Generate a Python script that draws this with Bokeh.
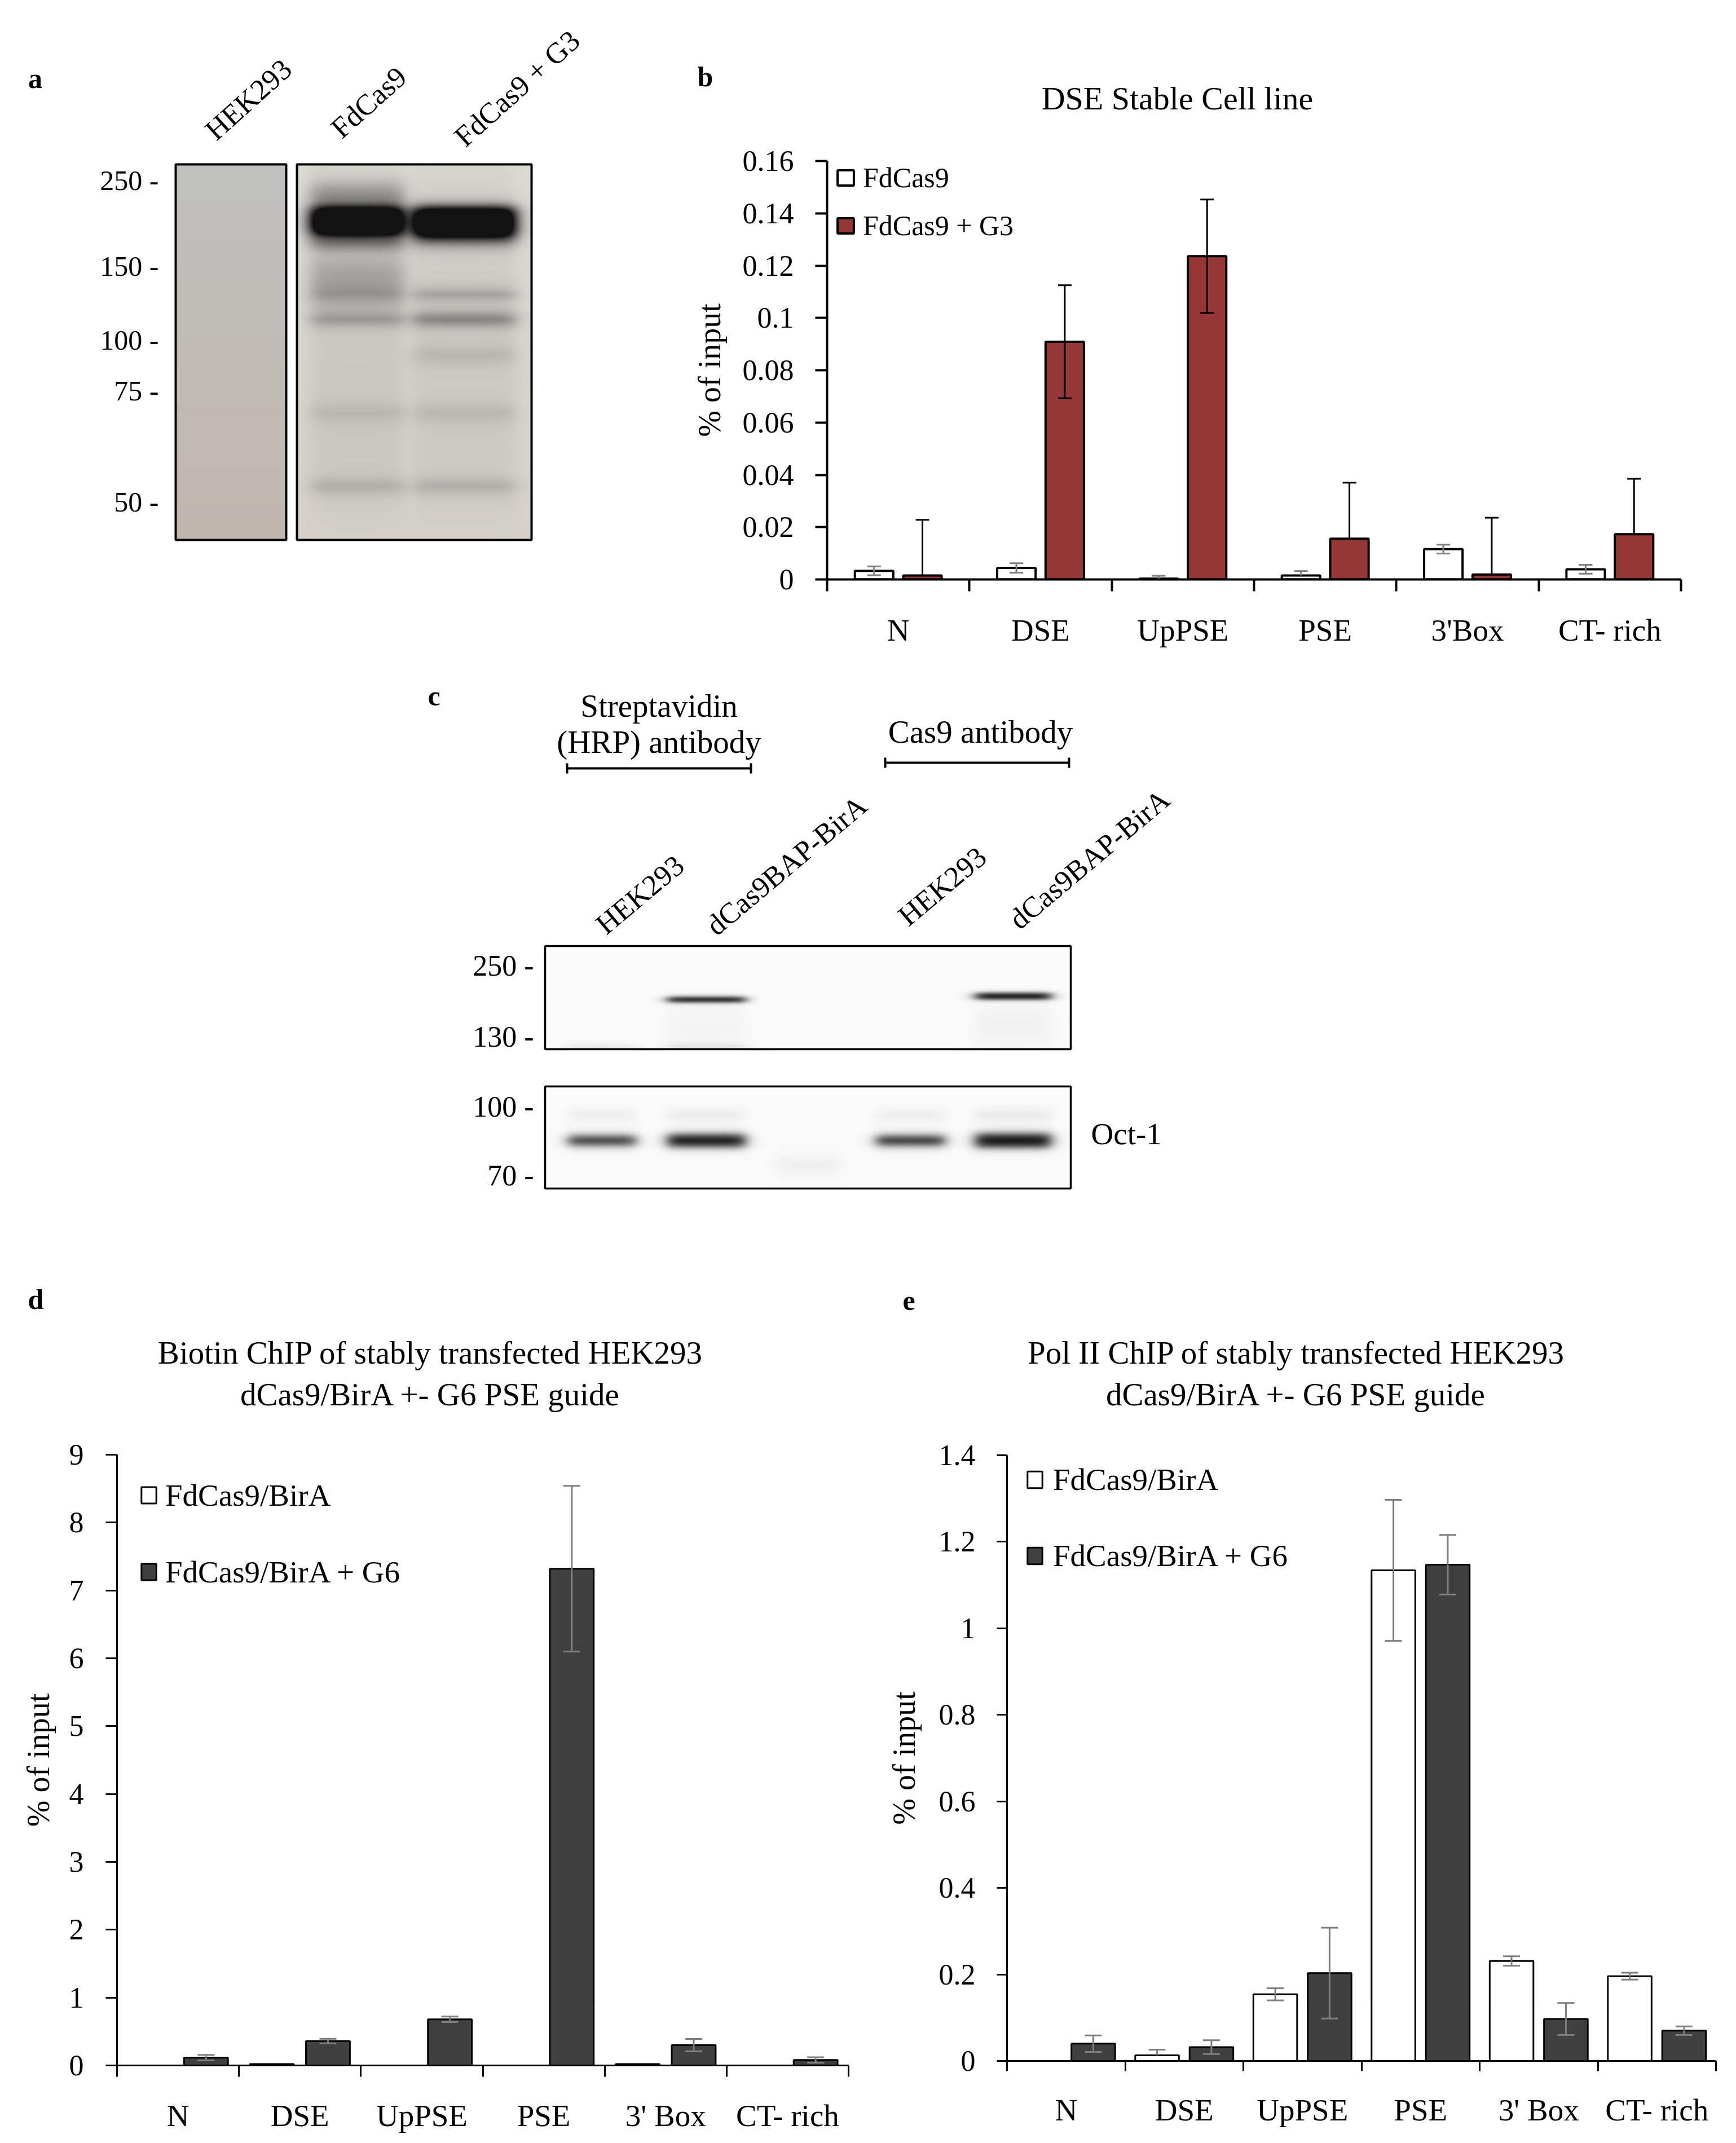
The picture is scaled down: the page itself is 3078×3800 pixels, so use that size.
import math
import numpy as np
from bokeh.plotting import figure
from bokeh.layouts import row, column
from bokeh.models import (Range1d, FixedTicker, ColumnDataSource, Whisker, TeeHead,
                          Legend, LegendItem)
from bokeh.core.properties import value
from bokeh.embed import file_html
from bokeh.resources import INLINE

SERIF = "Liberation Serif"

# ------------------------------------------------------------------ data
# panel b : DSE stable cell line
b_categories = ["N", "DSE", "UpPSE", "PSE", "3'Box", "CT- rich"]
b_fdcas9 = [0.0033, 0.0044, 0.0003, 0.0015, 0.0116, 0.0039]
b_fdcas9_err = [0.0017, 0.0018, 0.0011, 0.0017, 0.0017, 0.0017]
b_g3 = [0.0015, 0.0909, 0.1236, 0.0156, 0.0019, 0.0173]
b_g3_err = [0.0213, 0.0216, 0.0217, 0.0214, 0.0217, 0.0212]
b_yticks = [0, 0.02, 0.04, 0.06, 0.08, 0.1, 0.12, 0.14, 0.16]
b_ytick_labels = ["0", "0.02", "0.04", "0.06", "0.08", "0.1", "0.12", "0.14", "0.16"]

# panels d / e
de_categories = ["N", "DSE", "UpPSE", "PSE", "3' Box", "CT- rich"]
d_bira = [0.0, 0.02, 0.0, 0.0, 0.02, 0.0]
d_bira_err = [0.0, 0.0, 0.0, 0.0, 0.0, 0.0]
d_g6 = [0.115, 0.36, 0.68, 7.32, 0.30, 0.08]
d_g6_err = [0.04, 0.033, 0.04, 1.22, 0.09, 0.04]
d_yticks = [0, 1, 2, 3, 4, 5, 6, 7, 8, 9]
d_ytick_labels = ["0", "1", "2", "3", "4", "5", "6", "7", "8", "9"]

e_bira = [0.0, 0.013, 0.154, 1.134, 0.231, 0.196]
e_bira_err = [0.0, 0.013, 0.014, 0.163, 0.011, 0.008]
e_g6 = [0.040, 0.032, 0.203, 1.147, 0.097, 0.070]
e_g6_err = [0.019, 0.016, 0.105, 0.069, 0.037, 0.010]
e_yticks = [0, 0.2, 0.4, 0.6, 0.8, 1, 1.2, 1.4]
e_ytick_labels = ["0", "0.2", "0.4", "0.6", "0.8", "1", "1.2", "1.4"]

# blot annotations
a_lanes = ["HEK293", "FdCas9", "FdCas9  + G3"]
a_markers = ["250 -", "150 -", "100 -", "75 -", "50 -"]
c_lanes = ["HEK293", "dCas9BAP-BirA", "HEK293", "dCas9BAP-BirA"]
c_markers = ["250 -", "130 -", "100 -", "70 -"]

# ------------------------------------------------------------------ layout (reference px)
ROW1_H, ROW2_H, ROW3_H = 1162, 1060, 1562
W_A, W_B = 1172, 1890
W_C = 3062
W_D, W_E = 1532, 1530
HB_H = 242          # header of panel b
HDE_H = 310         # headers of panels d, e
ORIG_A = (8, 8)
ORIG_HB = (8 + W_A, 8)
ORIG_B = (8 + W_A, 8 + HB_H)
ORIG_C = (8, 8 + ROW1_H)
ORIG_HD = (8, 8 + ROW1_H + ROW2_H)
ORIG_HE = (8 + W_D, 8 + ROW1_H + ROW2_H)
ORIG_D = (8, 8 + ROW1_H + ROW2_H + HDE_H)
ORIG_E = (8 + W_D, 8 + ROW1_H + ROW2_H + HDE_H)


def no_align(p):
    try:
        p.frame_align = False
    except Exception:
        pass
    return p


def plateau(d, half, soft):
    return 1.0 / (1.0 + np.exp((np.abs(d) - half) / max(soft, 0.5)))


def blot_rgba(x0, y0, x1, y1, lanes, bands, bg_top, bg_bot, ink, lane_soft=7.0):
    w = int(x1 - x0)
    h = int(y1 - y0)
    xx = np.arange(w)[None, :] + x0 + 0.5
    yy = np.arange(h)[:, None] + y0 + 0.5
    dens = np.zeros((h, w))
    for lane, yc, half, soft, dark in bands:
        cx, hw = lanes[lane]
        dens += dark * plateau(xx - cx, hw, lane_soft) * plateau(yy - yc, half, soft)
    dens = np.clip(dens, 0, 1)[..., None]
    t = ((yy - y0) / h)[..., None]
    bg = np.array(bg_top, float)[None, None, :] * (1 - t) + np.array(bg_bot, float)[None, None, :] * t
    rgb = bg * (1 - dens) + np.array(ink, float)[None, None, :] * dens
    rgba = np.empty((h, w, 4), dtype=np.uint8)
    rgba[..., :3] = np.clip(rgb, 0, 255).astype(np.uint8)
    rgba[..., 3] = 255
    img = rgba.view(np.uint32).reshape(h, w)
    return img[::-1].copy(), w, h


def pixel_figure(W, H):
    p = figure(width=W, height=H, x_range=Range1d(0, W), y_range=Range1d(0, H),
               output_backend="svg", toolbar_location=None,
               x_axis_location=None, y_axis_location=None, min_border=0)
    p.grid.visible = False
    p.outline_line_color = None
    p.background_fill_color = "white"
    p.border_fill_color = "white"
    return no_align(p)


def place_image(p, orig, H, img, w, h, rx0, ry0):
    p.image_rgba(image=[img], x=rx0 - orig[0], y=H - (ry0 - orig[1]) - h, dw=w, dh=h)


def box(p, orig, H, rx0, ry0, rx1, ry1, lw):
    p.quad(left=rx0 - orig[0], right=rx1 - orig[0], top=H - (ry0 - orig[1]),
           bottom=H - (ry1 - orig[1]), fill_color=None, line_color="black", line_width=lw)


def texts(p, orig, H, rxs, rys, labels, size, align="center", angle=0.0, bold=False):
    src = ColumnDataSource(dict(x=[x - orig[0] for x in rxs], y=[H - (y - orig[1]) for y in rys], t=labels))
    p.text(x="x", y="y", text="t", source=src, angle=angle, text_font=value(SERIF),
           text_font_size=value(f"{size}px"), text_align=align, text_baseline="middle",
           text_font_style="bold" if bold else "normal", text_color="black")


# ------------------------------------------------------------------ panel a
fa = pixel_figure(W_A, ROW1_H)
L_BOX = (319, 299, 515, 965)
R_BOX = (534, 299, 950, 965)
img, w, h = blot_rgba(*L_BOX, lanes=[(0, 0)], bands=[], bg_top=(192, 193, 191), bg_bot=(193, 182, 174), ink=(20, 20, 20))
place_image(fa, ORIG_A, ROW1_H, img, w, h, L_BOX[0], L_BOX[1])
a_lane_geo = [(641, 82), (831, 90)]
a_bands = [
    (0, 600, 300, 40, 0.07), (1, 600, 300, 40, 0.06),
    (0, 400, 24, 6, 1.6), (1, 402, 26, 6, 1.6),
    (0, 355, 20, 8, 0.33), (0, 438, 12, 6, 0.38), (1, 437, 10, 6, 0.25),
    (0, 510, 40, 12, 0.22), (1, 530, 8, 6, 0.26), (0, 528, 8, 6, 0.12),
    (0, 574, 9, 6, 0.28), (1, 574, 10, 6, 0.42),
    (1, 637, 12, 8, 0.12), (0, 740, 10, 8, 0.11), (1, 740, 10, 8, 0.12),
    (0, 870, 10, 7, 0.18), (1, 870, 10, 7, 0.18),
]
img, w, h = blot_rgba(*R_BOX, lanes=a_lane_geo, bands=a_bands, bg_top=(220, 219, 214), bg_bot=(214, 209, 203), ink=(18, 18, 18), lane_soft=9.0)
place_image(fa, ORIG_A, ROW1_H, img, w, h, R_BOX[0], R_BOX[1])
box(fa, ORIG_A, ROW1_H, *L_BOX, 4)
box(fa, ORIG_A, ROW1_H, *R_BOX, 4)
texts(fa, ORIG_A, ROW1_H, [289] * 5, [327, 479, 610, 700, 897], a_markers, 50, align="right")
texts(fa, ORIG_A, ROW1_H, [448, 661, 929], [184, 189, 160], a_lanes, 52, angle=math.radians(42))
texts(fa, ORIG_A, ROW1_H, [70], [146], ["a"], 50, bold=True)


# ------------------------------------------------------------------ panel c
fc = pixel_figure(W_C, ROW2_H)
C_UP = (974, 1685, 1906, 1868)
C_LO = (974, 1934, 1906, 2115)
c_lane_geo = [(1075, 60), (1260, 69), (1441, 54), (1622, 61), (1804, 67)]
c_up_bands = [
    (1, 1780, 5, 2, 0.92), (4, 1774, 6, 2, 0.95),
    (1, 1825, 30, 10, 0.03), (4, 1825, 30, 10, 0.04),
    (0, 1864, 3, 3, 0.10), (1, 1863, 3, 3, 0.12),
]
c_lo_bands = [
    (0, 2030, 9, 4, 0.80), (1, 2030, 11, 4, 0.98), (3, 2030, 9, 4, 0.84), (4, 2030, 12, 4, 1.0),
    (0, 1985, 8, 6, 0.07), (1, 1985, 8, 6, 0.08), (3, 1985, 8, 6, 0.07), (4, 1985, 8, 6, 0.09),
    (2, 2072, 12, 8, 0.06),
]
img, w, h = blot_rgba(*C_UP, lanes=c_lane_geo, bands=c_up_bands, bg_top=(252, 252, 252), bg_bot=(250, 250, 250), ink=(15, 15, 15))
place_image(fc, ORIG_C, ROW2_H, img, w, h, C_UP[0], C_UP[1])
img, w, h = blot_rgba(*C_LO, lanes=c_lane_geo, bands=c_lo_bands, bg_top=(252, 252, 252), bg_bot=(250, 250, 250), ink=(15, 15, 15))
place_image(fc, ORIG_C, ROW2_H, img, w, h, C_LO[0], C_LO[1])
box(fc, ORIG_C, ROW2_H, *C_UP, 3.5)
box(fc, ORIG_C, ROW2_H, *C_LO, 3.5)
texts(fc, ORIG_C, ROW2_H, [954] * 4, [1720, 1846, 1970, 2092], c_markers, 52, align="right")
texts(fc, ORIG_C, ROW2_H, [1142, 1402, 1678, 1939], [1594, 1542, 1579, 1531], c_lanes, 52, angle=math.radians(40))
texts(fc, ORIG_C, ROW2_H, [1176, 1176, 1746], [1259, 1323, 1305], ["Streptavidin", "(HRP) antibody", "Cas9 antibody"], 57)
texts(fc, ORIG_C, ROW2_H, [1942], [2018], ["Oct-1"], 55, align="left")
texts(fc, ORIG_C, ROW2_H, [777], [1241], ["c"], 50, bold=True)
for (x0, x1, yb) in [(1013, 1339, 1370), (1577, 1903, 1360)]:
    ox, oy = ORIG_C
    yy = ROW2_H - (yb - oy)
    fc.segment(x0=[x0 - ox, x0 - ox, x1 - ox], y0=[yy, yy - 9, yy - 9],
               x1=[x1 - ox, x0 - ox, x1 - ox], y1=[yy, yy + 9, yy + 9],
               line_color="black", line_width=4)


# ------------------------------------------------------------------ headers of b, d, e
hb = pixel_figure(W_B, HB_H)
texts(hb, ORIG_HB, HB_H, [1258], [143], ["b"], 50, bold=True)
texts(hb, ORIG_HB, HB_H, [2095], [182], ["DSE Stable Cell line"], 58)

hd = pixel_figure(W_D, HDE_H)
texts(hd, ORIG_HD, HDE_H, [71], [2311], ["d"], 50, bold=True)
texts(hd, ORIG_HD, HDE_H, [771, 771], [2406, 2480],
      ["Biotin ChIP of stably transfected HEK293", "dCas9/BirA +- G6 PSE guide"], 57)

he = pixel_figure(W_E, HDE_H)
texts(he, ORIG_HE, HDE_H, [1619], [2314], ["e"], 50, bold=True)
texts(he, ORIG_HE, HDE_H, [2306, 2306], [2406, 2480],
      ["Pol II ChIP of stably transfected HEK293", "dCas9/BirA +- G6 PSE guide"], 57)


# ------------------------------------------------------------------ bar charts
LEG_ROW = 90


def bar_chart(W, H, orig, frame_ref, ymax, yticks, ylabels, cats, series, bar_w,
              lw, tick_len, ylab_standoff, xlab_standoff, ax_label_standoff,
              tick_font, xlab_font, ylab_font, head):
    ox, oy = orig
    fl = frame_ref[0] - ox
    fr = frame_ref[2] - ox
    ft = frame_ref[1] - oy
    fb = frame_ref[3] - oy
    n = len(cats)
    p = figure(width=W, height=H, x_range=Range1d(0, n), y_range=Range1d(0, ymax),
               output_backend="svg", toolbar_location=None,
               min_border_left=fl, min_border_right=W - fr,
               min_border_top=ft, min_border_bottom=H - fb)
    no_align(p)
    p.grid.visible = False
    p.outline_line_color = None
    p.background_fill_color = "white"
    p.border_fill_color = "white"
    rends = []
    for s in series:
        xs = [i + 0.5 + s["offset"] for i in range(n)]
        src = ColumnDataSource(dict(x=xs, top=s["values"]))
        r = p.vbar(x="x", top="top", width=bar_w, bottom=0, source=src,
                   fill_color=s["fill"], line_color="black", line_width=lw)
        rends.append(r)
        up = dict(x=[], lo=[], hi=[])
        dn = dict(x=[], lo=[], hi=[])
        for x, v, e in zip(xs, s["values"], s["errs"]):
            if e <= 0:
                continue
            up["x"].append(x); up["lo"].append(v); up["hi"].append(v + e)
            if v - e > 0:
                dn["x"].append(x); dn["lo"].append(v - e); dn["hi"].append(v)
        ec = s["err_color"]
        p.add_layout(Whisker(source=ColumnDataSource(up), base="x", lower="lo", upper="hi",
                             dimension="height", line_color=ec, line_width=3, level="annotation",
                             upper_head=TeeHead(size=head, line_color=ec, line_width=3), lower_head=None))
        p.add_layout(Whisker(source=ColumnDataSource(dn), base="x", lower="lo", upper="hi",
                             dimension="height", line_color=ec, line_width=3, level="annotation",
                             lower_head=TeeHead(size=head, line_color=ec, line_width=3), upper_head=None))
    xa = p.xaxis[0]
    xa.ticker = FixedTicker(ticks=[i + 0.5 for i in range(n)], minor_ticks=list(range(n + 1)))
    xa.major_label_overrides = {i + 0.5: c for i, c in enumerate(cats)}
    xa.major_tick_line_color = None
    xa.major_tick_out = 0
    xa.major_tick_in = 0
    xa.minor_tick_out = tick_len
    xa.minor_tick_in = 0
    xa.minor_tick_line_color = "black"
    xa.minor_tick_line_width = lw
    xa.axis_line_width = lw
    xa.axis_line_color = "black"
    xa.major_label_text_font = SERIF
    xa.major_label_text_font_size = f"{xlab_font}px"
    xa.major_label_text_color = "black"
    xa.major_label_standoff = xlab_standoff
    ya = p.yaxis[0]
    ya.ticker = FixedTicker(ticks=yticks)
    ya.major_label_overrides = dict(zip(yticks, ylabels))
    ya.major_tick_out = tick_len
    ya.major_tick_in = 0
    ya.major_tick_line_width = lw
    ya.major_tick_line_color = "black"
    ya.minor_tick_line_color = None
    ya.axis_line_width = lw
    ya.axis_line_color = "black"
    ya.major_label_text_font = SERIF
    ya.major_label_text_font_size = f"{tick_font}px"
    ya.major_label_text_color = "black"
    ya.major_label_standoff = ylab_standoff
    ya.axis_label = "% of input"
    ya.axis_label_text_font = SERIF
    ya.axis_label_text_font_size = f"{ylab_font}px"
    ya.axis_label_text_font_style = "normal"
    ya.axis_label_text_color = "black"
    ya.axis_label_standoff = ax_label_standoff

    def legend(r, text, rx_left, ry_center, gw, gh, standoff, size):
        sx = rx_left - ox - fl
        sy = fb - (ry_center - oy) - LEG_ROW / 2
        p.add_layout(Legend(items=[LegendItem(label=text, renderers=[r])], location=(sx, sy),
                            glyph_width=gw, glyph_height=gh, label_height=LEG_ROW, label_width=10,
                            label_standoff=standoff, label_text_font=SERIF,
                            label_text_font_size=f"{size}px", label_text_color="black",
                            padding=0, margin=0, spacing=0, border_line_color=None,
                            background_fill_alpha=0))

    return p, rends, legend


# panel b
fb_, rb, leg_b = bar_chart(
    W_B, ROW1_H - HB_H, ORIG_B, (1474, 293, 2988, 1035), 0.16, b_yticks, b_ytick_labels, b_categories,
    [dict(values=b_fdcas9, errs=b_fdcas9_err, offset=-0.17, fill="white", err_color="#808080"),
     dict(values=b_g3, errs=b_g3_err, offset=0.17, fill="#953735", err_color="black")],
    bar_w=0.27, lw=4, tick_len=21, ylab_standoff=38, xlab_standoff=38, ax_label_standoff=25,
    tick_font=52, xlab_font=55, ylab_font=56, head=24)
leg_b(rb[0], "FdCas9", 1489, 323, 36, 34, 13, 50)
leg_b(rb[1], "FdCas9 + G3", 1489, 408, 36, 34, 13, 50)

# panel d
fd_, rd, leg_d = bar_chart(
    W_D, ROW3_H - HDE_H, ORIG_D, (215, 2587, 1512, 3675), 9, d_yticks, d_ytick_labels, de_categories,
    [dict(values=d_bira, errs=d_bira_err, offset=-0.23, fill="white", err_color="#7f7f7f"),
     dict(values=d_g6, errs=d_g6_err, offset=0.23, fill="#404040", err_color="#7f7f7f")],
    bar_w=0.36, lw=3, tick_len=20, ylab_standoff=39, xlab_standoff=38, ax_label_standoff=21,
    tick_font=52, xlab_font=55, ylab_font=56, head=30)
leg_d(rd[0], "FdCas9/BirA", 255, 2664, 33, 36, 13, 55)
leg_d(rd[1], "FdCas9/BirA + G6", 255, 2800, 33, 36, 13, 55)

# panel e
fe_, re_, leg_e = bar_chart(
    W_E, ROW3_H - HDE_H, ORIG_E, (1793, 2588, 3050, 3662), 1.4, e_yticks, e_ytick_labels, de_categories,
    [dict(values=e_bira, errs=e_bira_err, offset=-0.23, fill="white", err_color="#7f7f7f"),
     dict(values=e_g6, errs=e_g6_err, offset=0.23, fill="#404040", err_color="#7f7f7f")],
    bar_w=0.37, lw=3, tick_len=18, ylab_standoff=38, xlab_standoff=38, ax_label_standoff=28,
    tick_font=52, xlab_font=55, ylab_font=56, head=30)
leg_e(re_[0], "FdCas9/BirA", 1826, 2631, 33, 37, 16, 55)
leg_e(re_[1], "FdCas9/BirA + G6", 1826, 2766, 33, 37, 16, 55)

layout = column(
    row(fa, column(hb, fb_, spacing=0), spacing=0),
    fc,
    row(column(hd, fd_, spacing=0), column(he, fe_, spacing=0), spacing=0),
    spacing=0)
open("out.html", "w").write(file_html(layout, INLINE))
